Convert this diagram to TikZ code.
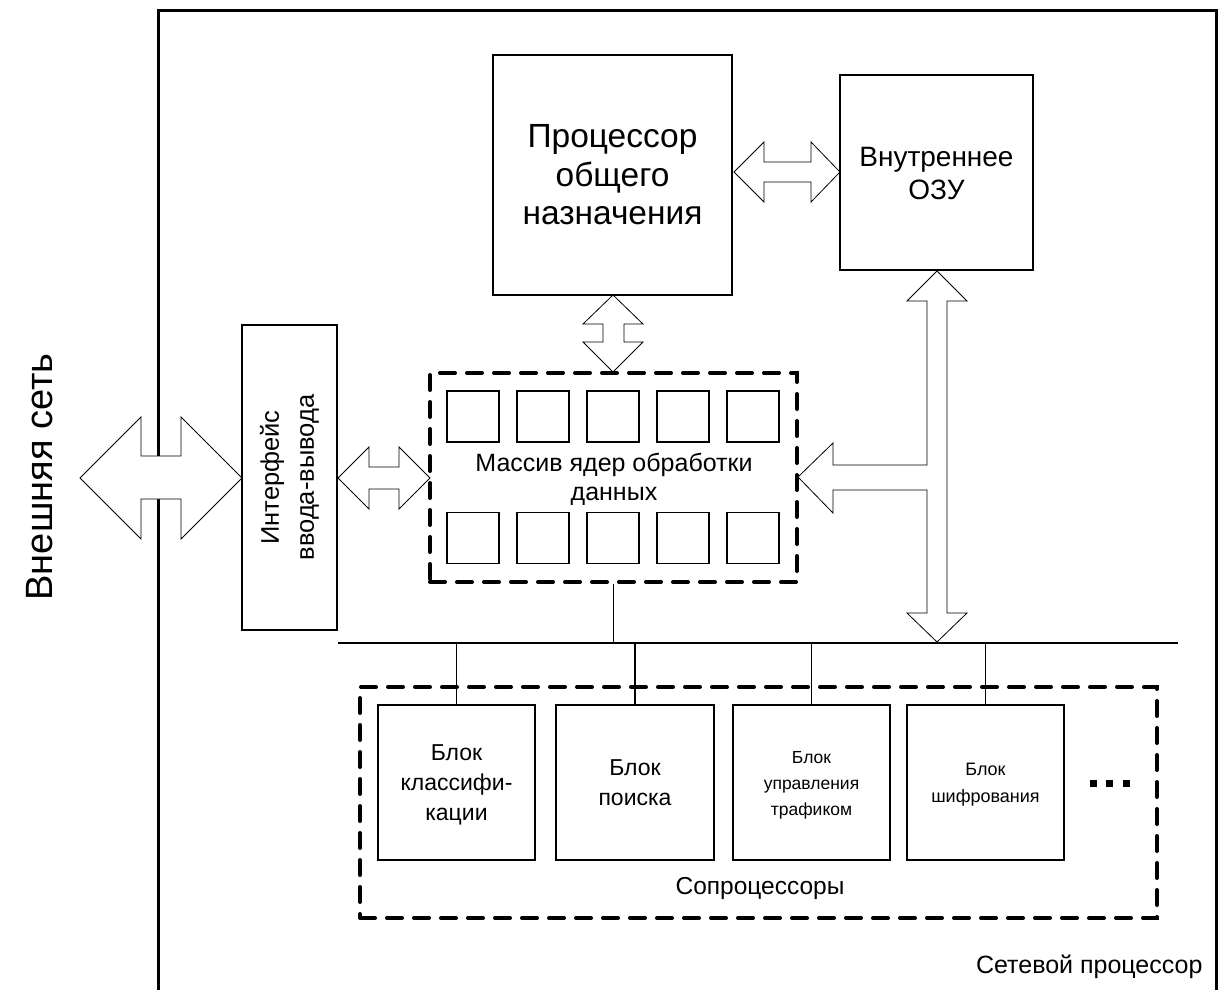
\documentclass[tikz,border=0pt]{standalone}
\usepackage{fontspec}
\setmainfont{Liberation Sans}
\newcommand\fsz[2]{\fontsize{#1}{#2}\selectfont}
\begin{document}
\begin{tikzpicture}[x=1pt,y=-1pt,
  box/.style={draw,line width=2pt,inner sep=0pt,align=center},
  core/.style={draw,line width=1.6pt,minimum width=52pt,minimum height=51pt,inner sep=0pt},
  dbox/.style={draw,line width=4pt,dash pattern=on 15pt off 12pt,line cap=round,inner sep=0pt},
  barrow/.style={draw,line width=0.8pt,fill=white,line join=miter},
  wire/.style={line width=1.8pt}]
\useasboundingbox (0,0) rectangle (1219,990);
\clip (0,0) rectangle (1219,990);
% outer frame
\draw[line width=3pt] (158,1000) -- (158,11) -- (1216,11) -- (1216,1000);
\node[font=\fsz{25}{29},anchor=south east] (np) at (1206,982) {Сетевой процессор};
\node[font=\fsz{38}{44},rotate=90] (ext) at (40,477) {Внешняя сеть};
% processor and RAM
\node[box,minimum width=239pt,minimum height=240pt] (proc) at (612.5,175) {};
\node[font=\fsz{33.5}{38.5},align=center] (proctext) at (proc.center) {Процессор\\общего\\назначения};
\node[box,minimum width=193pt,minimum height=195pt] (ozu) at (936.5,172.5) {};
\node[font=\fsz{28}{33},align=center] (ozutext) at ([yshift=-1pt]ozu.center) {Внутреннее\\ОЗУ};
% IO
\node[box,minimum width=95pt,minimum height=305pt] (io) at (289.5,477.5) {};
\node[font=\fsz{25.5}{35},rotate=90,align=center] (iotext) at (io.center) {Интерфейс\\ввода-вывода};
% core array
\node[dbox,minimum width=367pt,minimum height=209pt] (cores) at (613.5,477.5) {};
\foreach \i/\x in {1/473,2/543,3/613,4/683,5/753}{
  \node[core] (t\i) at (\x,416.5) {};
  \node[core] (b\i) at (\x,538) {};
}
\node[font=\fsz{25}{29},align=center] (ctext) at (614,479) {Массив ядер обработки\\данных};
% coprocessors
\node[dbox,minimum width=797pt,minimum height=231pt] (cop) at (758.5,802.5) {};
\node[box,minimum width=157pt,minimum height=155pt] (k1) at (456.5,782.5) {};
\node[box,minimum width=158pt,minimum height=155pt] (k2) at (635,782.5) {};
\node[box,minimum width=157pt,minimum height=155pt] (k3) at (811.5,782.5) {};
\node[box,minimum width=157pt,minimum height=155pt] (k4) at (985.5,782.5) {};
\node[font=\fsz{23}{30},align=center] (k1text) at ([yshift=-2pt]k1.center) {Блок\\классифи-\\кации};
\node[font=\fsz{23}{30},align=center] (k2text) at (k2.center) {Блок\\поиска};
\node[font=\fsz{17.5}{26},align=center] (k3text) at ([yshift=-3pt]k3.center) {Блок\\управления\\трафиком};
\node[font=\fsz{18}{26.5},align=center] (k4text) at ([yshift=-2pt]k4.center) {Блок\\шифрования};
\foreach \x in {1093,1109,1126} \fill (\x-3.5,780) rectangle (\x+3.5,787);
\node[font=\fsz{24.5}{28}] (coptext) at (760,888) {Сопроцессоры};
% bus
\coordinate (busL) at (338,643);
\coordinate (busR) at (1178,643);
\draw[wire] (busL) -- (busR);
\draw[wire] (cores.south) -- (cores.south |- busL);
\foreach \k in {1,2,3,4} \draw[wire] (k\k.north) -- (k\k.north |- busL);
% block arrows
\draw[barrow] (80,478) -- (141,417) -- (141,456) -- (181,456) -- (181,417) -- (242,478)
  -- (181,539) -- (181,499) -- (141,499) -- (141,539) -- cycle;
\draw[barrow] (338,478) -- (369,447) -- (369,467) -- (399,467) -- (399,447) -- (430,478)
  -- (399,509) -- (399,489) -- (369,489) -- (369,509) -- cycle;
\draw[barrow] (734,172) -- (764,142) -- (764,162) -- (811,162) -- (811,142) -- (840,172)
  -- (811,202) -- (811,182) -- (764,182) -- (764,202) -- cycle;
\draw[barrow] (613,295) -- (643,324) -- (624,324) -- (624,342) -- (643,342) -- (613,372)
  -- (583,342) -- (603,342) -- (603,324) -- (583,324) -- cycle;
\draw[barrow] (937,271) -- (967,301) -- (947,301) -- (947,613) -- (967,613) -- (937,642)
  -- (907,613) -- (927,613) -- (927,490) -- (833,490) -- (833,513) -- (798,477)
  -- (833,443) -- (833,465) -- (927,465) -- (927,301) -- (907,301) -- cycle;
\end{tikzpicture}
\end{document}
